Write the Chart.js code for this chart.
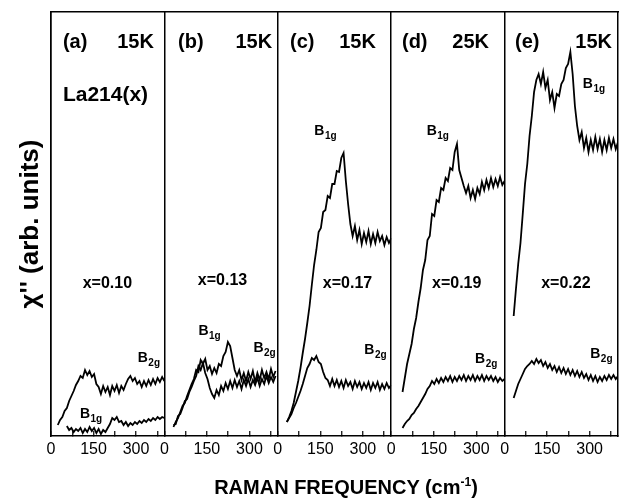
<!DOCTYPE html>
<html>
<head>
<meta charset="utf-8">
<script src="https://cdn.jsdelivr.net/npm/chart.js@4.4.1/dist/chart.umd.min.js"></script>
<style>
html,body{margin:0;padding:0;background:#fff;overflow:hidden;}
#wrap{position:relative;width:620px;height:498px;background:#fff;}
#xt{position:absolute;left:346px;top:477px;transform:translateX(-50%);white-space:nowrap;
  font:bold 20px 'Liberation Sans', Arial, Helvetica, sans-serif;line-height:20px;color:#000;}
#xt sup{font-size:12px;vertical-align:baseline;position:relative;top:-8px;}
</style>
</head>
<body>
<div id="wrap">
  <canvas id="c" width="620" height="498"></canvas>
  <div id="xt">RAMAN FREQUENCY (cm<sup>-1</sup>)</div>
</div>
<script>
const FONT = "'Liberation Sans', Arial, Helvetica, sans-serif";

// Raman shift sample points (cm^-1)
const freq = [24,32,40,48,56,64,72,80,88,96,104,112,120,128,136,144,152,160,168,176,184,192,200,208,216,224,232,240,248,256,264,272,280,288,296,304,312,320,328,336,344,352,360,368,376,384,392,400];

// chi'' (arb. units)
const b2g_a = [11,16,19,25,28,35,40,45,51,55,60,58,66,61,65,59,62,52,49,42,50,44,49,41,50,45,51,43,50,46,52,57,60,55,58,52,55,49,55,50,56,51,57,52,58,54,59,55];
const b1g_a = [null,null,null,null,10,6,8,4,7,5,8,3,7,4,9,5,8,3,7,2,6,4,8,12,18,16,19,14,15,11,14,10,13,11,14,12,15,13,16,14,17,15,18,16,19,17,19,18];
const b1g_b = [null,9,14,18,24,30,33,40,46,52,57,66,64,76,72,77,66,70,62,68,63,72,70,80,84,94,90,78,66,60,66,56,63,55,64,57,65,54,63,56,66,58,64,57,67,59,65,null];
const b2g_b = [null,11,12,20,22,28,35,37,44,49,55,60,70,66,73,63,57,48,42,38,46,41,50,45,53,47,55,48,56,49,55,47,56,50,57,49,56,51,58,50,57,52,60,53,59,54,60,null];
const b1g_c = [null,14,19,25,33,44,55,68,83,97,113,130,151,171,186,204,208,224,226,240,238,252,252,265,264,278,283,255,232,212,200,210,196,206,192,203,194,205,192,202,193,204,195,200,191,199,193,198];
const b2g_c = [null,14,18,22,28,33,39,45,52,60,68,72,78,76,80,74,72,64,58,56,50,57,50,56,49,55,48,56,50,54,47,55,49,54,47,53,48,54,46,53,48,54,46,52,47,53,48,51];
const b1g_d = [null,null,44,58,72,82,92,107,118,134,148,166,176,196,200,222,220,236,234,248,246,258,255,268,266,284,292,266,258,250,243,250,238,246,237,248,242,254,246,256,248,258,249,257,250,259,251,255];
const b2g_d = [null,null,8,12,15,17,21,23,27,30,34,38,42,47,50,55,52,57,53,58,54,59,55,60,54,59,55,60,56,61,55,60,56,61,55,60,56,61,55,60,56,60,55,59,54,58,55,57];
const b1g_e = [null,120,147,172,193,222,252,272,300,320,344,356,362,352,364,348,356,336,344,328,342,340,352,356,368,372,384,362,330,310,296,304,288,298,284,296,286,299,287,297,284,296,286,298,288,297,287,294];
const b2g_e = [null,38,45,52,57,62,67,70,72,75,72,77,73,76,70,74,68,72,66,70,64,69,63,68,62,67,61,66,60,65,59,64,58,62,56,61,55,60,54,59,55,60,56,61,57,61,57,60];

const panelIds = ['(a)','(b)','(c)','(d)','(e)'];
const temps = ['15K','15K','15K','25K','15K'];
const dopings = ['x=0.10','x=0.13','x=0.17','x=0.19','x=0.22'];
const sampleLabel = 'La214(x)';
const tickLabelValues = [0,150,300];

const seriesB1g = [b1g_a,b1g_b,b1g_c,b1g_d,b1g_e];
const seriesB2g = [b2g_a,b2g_b,b2g_c,b2g_d,b2g_e];

// text placements in data coordinates (x: cm^-1 within panel, y: arb. units)
const headerY = 388;
const headerLeft = [42,48,43,38,37];
const headerRight = [363,380,346,345,379];
const dopingX = [199,205,246,231,216];
const dopingY = [148,151,148,148,148];
const sampleAt = {p:0, x:42, y:335};
const symLabels = [
  {p:0,x:306,y:74,sub:'2g'},{p:0,x:102,y:18,sub:'1g'},
  {p:1,x:120,y:101,sub:'1g'},{p:1,x:314,y:84,sub:'2g'},
  {p:2,x:129,y:301,sub:'1g'},{p:2,x:305,y:82,sub:'2g'},
  {p:3,x:125,y:301,sub:'1g'},{p:3,x:296,y:73,sub:'2g'},
  {p:4,x:276,y:348,sub:'1g'},{p:4,x:302,y:78,sub:'2g'}
];

function toPoints(vals){
  const pts = [];
  vals.forEach((v,i)=>{ if(v!==null) pts.push({x:freq[i], y:v}); });
  return pts;
}

const datasets = [];
for (let p=0;p<5;p++){
  [['B1g',seriesB1g[p]],['B2g',seriesB2g[p]]].forEach(([name,vals])=>{
    datasets.push({
      label: name+' '+panelIds[p], data: toPoints(vals),
      xAxisID:'x'+p, yAxisID:'y',
      borderColor:'#000', borderWidth:1.8, pointRadius:0, tension:0, fill:false
    });
  });
}

const scales = {
  y: {
    type:'linear', position:'left', min:0, max:424,
    ticks:{display:false}, grid:{display:false, drawTicks:false},
    border:{display:true, color:'#000', width:1.5},
    title:{display:true, text:"\u03C7'' (arb. units)", color:'#000',
      font:{family:FONT, size:26, weight:'bold'}, padding:{top:15,bottom:0}},
    afterFit(s){ s.width = 51; }
  },
  yR: {
    type:'linear', position:'right', min:0, max:1,
    ticks:{display:false}, grid:{display:false, drawTicks:false},
    border:{display:true, color:'#000', width:1.5},
    afterFit(s){ s.width = 2; }
  },
  xT: {
    type:'linear', position:'top', min:0, max:1,
    ticks:{display:false}, grid:{display:false, drawTicks:false},
    border:{display:true, color:'#000', width:1.5},
    afterFit(s){ s.height = 12; }
  }
};
for (let p=0;p<5;p++){
  scales['x'+p] = {
    type:'linear', position:'bottom', stack:'panels', stackWeight:1,
    min:0, max:400,
    ticks:{stepSize:75, includeBounds:false, autoSkip:false, maxRotation:0, minRotation:0,
      padding:9, color:'#000', font:{family:FONT, size:16},
      callback:(v)=> tickLabelValues.includes(v) ? String(v) : ''},
    grid:{drawOnChartArea:true, lineWidth:1.5,
      color:(c)=> (c.tick && c.tick.value===0) ? '#000' : 'rgba(0,0,0,0)',
      drawTicks:true, tickLength:-5, tickColor:'#000', tickWidth:1.2},
    border:{display:true, color:'#000', width:1.5},
    afterFit(s){ s.height = 62; s.paddingLeft = 0; s.paddingRight = 0; }
  };
}

const annotate = {
  id:'annotate',
  afterDraw(chart){
    const ctx = chart.ctx, ys = chart.scales.y;
    const px = (p,v)=> chart.scales['x'+p].getPixelForValue(v);
    const py = (v)=> ys.getPixelForValue(v);
    const txt = (s,x,y,size,align)=>{ ctx.font = 'bold '+size+'px '+FONT; ctx.textAlign = align; ctx.fillText(s,x,y); };
    ctx.save();
    ctx.fillStyle = '#000'; ctx.textBaseline = 'alphabetic';
    for (let p=0;p<5;p++){
      txt(panelIds[p], px(p,headerLeft[p]), py(headerY), 20, 'left');
      txt(temps[p], px(p,headerRight[p]), py(headerY), 20, 'right');
      txt(dopings[p], px(p,dopingX[p]), py(dopingY[p]), 16, 'center');
    }
    txt(sampleLabel, px(sampleAt.p,sampleAt.x), py(sampleAt.y), 21, 'left');
    symLabels.forEach(l=>{
      const x = px(l.p,l.x), y = py(l.y);
      txt('B', x, y, 14, 'left');
      ctx.font = 'bold 14px '+FONT;
      const w = ctx.measureText('B').width;
      txt(l.sub, x+w+0.5, y+4, 10, 'left');
    });
    ctx.restore();
  }
};

Chart.defaults.font.family = FONT;
new Chart(document.getElementById('c'), {
  type:'line',
  data:{datasets},
  options:{
    responsive:false, animation:false, devicePixelRatio:1,
    layout:{padding:0},
    plugins:{legend:{display:false}, tooltip:{enabled:false}, title:{display:false}},
    scales
  },
  plugins:[annotate]
});
</script>
</body>
</html>
